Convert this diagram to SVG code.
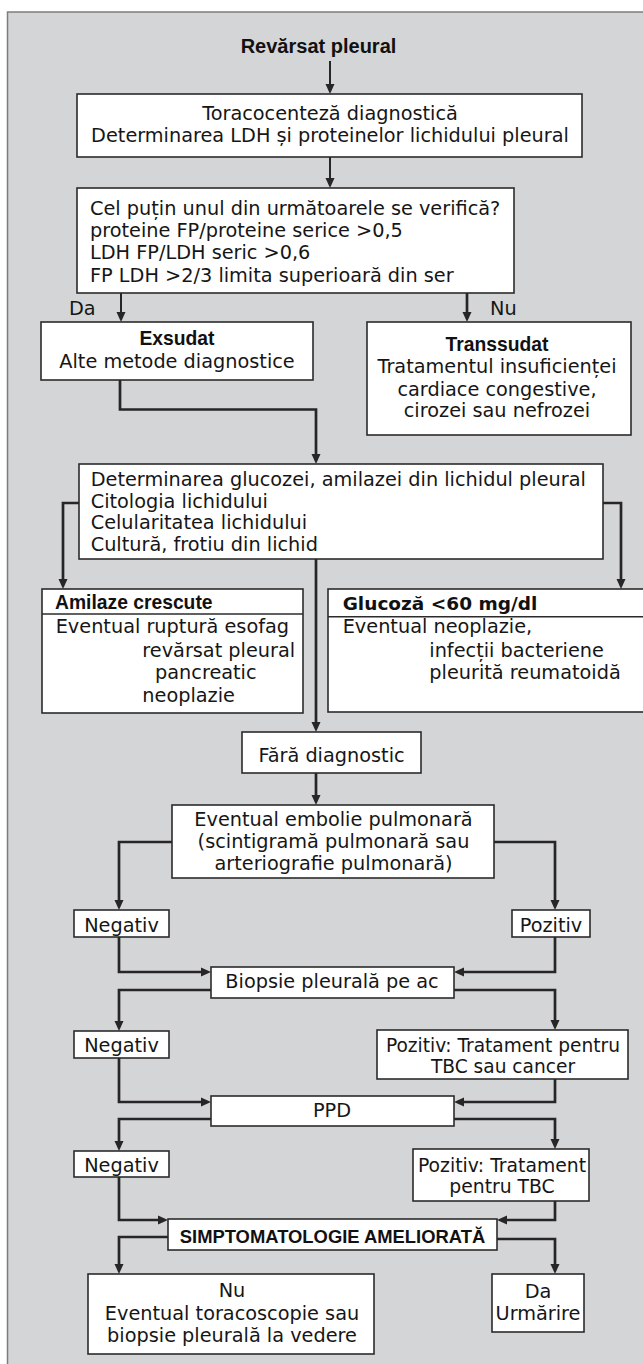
<svg xmlns="http://www.w3.org/2000/svg" width="643" height="1364" viewBox="0 0 643 1364">
  <defs>
    <marker id="ah" viewBox="0 0 10 10" refX="4" refY="5" markerWidth="10" markerHeight="10" markerUnits="userSpaceOnUse" orient="auto">
      <path d="M0,0.5 L10,5 L0,9.5 z" fill="#262626"/>
    </marker>
    <style>
      .panel { fill: #d4d5d7; stroke: #7d7d7d; stroke-width: 1.5; }
      .box { fill: #ffffff; stroke: #2b2b2b; stroke-width: 1.6; }
      .rule { stroke: #2b2b2b; stroke-width: 1.6; }
      .t { font-family: "DejaVu Sans", "Liberation Sans", sans-serif; font-size: 19.3px; fill: #161616; }
      .c { text-anchor: middle; }
      .b { font-family: "Liberation Sans", Arial, sans-serif; font-weight: bold; font-size: 19.3px; fill: #111111; }
      .bw { font-family: "DejaVu Sans", sans-serif; font-weight: bold; font-size: 18.5px; fill: #111111; }
      #connectors path { fill: none; stroke: #262626; stroke-width: 2.7; stroke-linejoin: miter; marker-end: url(#ah); }
      #connectors path.thin { stroke-width: 2; }
    </style>
  </defs>

  <!-- background panel -->
  <rect class="panel" x="7.5" y="12" width="650" height="1370"/>

  <!-- connectors -->
  <g id="connectors">
    <path class="thin" d="M330,61 V88"/>
    <path class="thin" d="M330,157 V182"/>
    <path class="thin" d="M121,293 V316"/>
    <path d="M467,293 V316"/>
    <path d="M120,380 V409.5 H316 V458"/>
    <path d="M79,503 H63 V583"/>
    <path d="M603,503 H621 V583"/>
    <path d="M316,559 V726"/>
    <path d="M316,773 V799"/>
    <path d="M172,842 H119 V904"/>
    <path d="M494,842 H555 V904"/>
    <path d="M119,937 V972 H205"/>
    <path d="M555,937 V972 H460"/>
    <path d="M211,990 H119 V1025"/>
    <path d="M454,990 H555 V1024"/>
    <path d="M119,1058 V1102 H205"/>
    <path d="M555,1079 V1102 H460"/>
    <path d="M211,1119 H119 V1145"/>
    <path d="M454,1119 H555 V1143"/>
    <path d="M119,1177 V1220 H162"/>
    <path d="M555,1201 V1220 H503"/>
    <path d="M168,1237 H119 V1268"/>
    <path d="M497,1239 H555 V1268"/>
  </g>

  <g id="start">
    <text class="b c" x="318.5" y="53" style="font-size:20px">Revărsat pleural</text>
  </g>

  <g id="toracocenteza">
    <rect class="box" x="77" y="94" width="505" height="63"/>
    <text class="t c" x="330" y="120">Toracocenteză diagnostică</text>
    <text class="t c" x="330" y="141.7">Determinarea LDH și proteinelor lichidului pleural</text>
  </g>

  <g id="criterii">
    <rect class="box" x="77" y="188" width="437" height="105"/>
    <text class="t" x="90" y="215">Cel puțin unul din următoarele se verifică?</text>
    <text class="t" x="90" y="237">proteine FP/proteine serice &gt;0,5</text>
    <text class="t" x="90" y="259">LDH FP/LDH seric &gt;0,6</text>
    <text class="t" x="90" y="281.5">FP LDH &gt;2/3 limita superioară din ser</text>
  </g>

  <g id="label-da">
    <text class="t" x="69" y="315">Da</text>
  </g>
  <g id="label-nu">
    <text class="t" x="490" y="315">Nu</text>
  </g>

  <g id="exsudat">
    <rect class="box" x="41" y="322" width="272" height="58"/>
    <text class="b c" x="177" y="345">Exsudat</text>
    <text class="t c" x="177" y="367.7">Alte metode diagnostice</text>
  </g>

  <g id="transsudat">
    <rect class="box" x="367" y="322" width="264" height="113"/>
    <text class="b c" x="497" y="350.7">Transsudat</text>
    <text class="t c" x="497" y="373.3">Tratamentul insuficienței</text>
    <text class="t c" x="497" y="395.7">cardiace congestive,</text>
    <text class="t c" x="497" y="416.7">cirozei sau nefrozei</text>
  </g>

  <g id="determinari">
    <rect class="box" x="79" y="464" width="524" height="95"/>
    <text class="t" x="90.7" y="485.7">Determinarea glucozei, amilazei din lichidul pleural</text>
    <text class="t" x="90.7" y="507.7">Citologia lichidului</text>
    <text class="t" x="90.7" y="529.3">Celularitatea lichidului</text>
    <text class="t" x="90.7" y="551">Cultură, frotiu din lichid</text>
  </g>

  <g id="amilaze">
    <rect class="box" x="42" y="589" width="261" height="124"/>
    <line class="rule" x1="42" y1="614" x2="303" y2="614"/>
    <text class="b" x="55" y="609.3">Amilaze crescute</text>
    <text class="t" x="55.7" y="633.3">Eventual ruptură esofag</text>
    <text class="t" x="142.3" y="656.7">revărsat pleural</text>
    <text class="t" x="155" y="679.3">pancreatic</text>
    <text class="t" x="142.3" y="702.3">neoplazie</text>
  </g>

  <g id="glucoza">
    <rect class="box" x="328" y="589" width="330" height="123"/>
    <line class="rule" x1="328" y1="616.7" x2="658" y2="616.7"/>
    <text class="bw" x="342.7" y="610">Glucoză &lt;60 mg/dl</text>
    <text class="t" x="342.7" y="633.3">Eventual neoplazie,</text>
    <text class="t" x="429.3" y="656.7">infecții bacteriene</text>
    <text class="t" x="429.3" y="679.3">pleurită reumatoidă</text>
  </g>

  <g id="fara-diagnostic">
    <rect class="box" x="242" y="732" width="179" height="41"/>
    <text class="t c" x="331.5" y="761.7">Fără diagnostic</text>
  </g>

  <g id="embolie">
    <rect class="box" x="172" y="805" width="322" height="73"/>
    <text class="t c" x="333.5" y="825.7">Eventual embolie pulmonară</text>
    <text class="t c" x="333.5" y="848.3">(scintigramă pulmonară sau</text>
    <text class="t c" x="333.5" y="870">arteriografie pulmonară)</text>
  </g>

  <g id="negativ-1">
    <rect class="box" x="74" y="910" width="95" height="27"/>
    <text class="t c" x="121.5" y="931.7">Negativ</text>
  </g>

  <g id="pozitiv-1">
    <rect class="box" x="512" y="910" width="78" height="27"/>
    <text class="t c" x="551" y="931.7">Pozitiv</text>
  </g>

  <g id="biopsie">
    <rect class="box" x="211" y="967" width="243" height="31"/>
    <text class="t c" x="332" y="988.3">Biopsie pleurală pe ac</text>
  </g>

  <g id="negativ-2">
    <rect class="box" x="74" y="1031" width="95" height="27"/>
    <text class="t c" x="121.5" y="1051.7">Negativ</text>
  </g>

  <g id="pozitiv-2">
    <rect class="box" x="377" y="1030" width="251" height="49"/>
    <text class="t c" x="503" y="1051.7" style="font-size:18.6px">Pozitiv: Tratament pentru</text>
    <text class="t c" x="503" y="1073.3" style="font-size:18.6px">TBC sau cancer</text>
  </g>

  <g id="ppd">
    <rect class="box" x="211" y="1096" width="243" height="30"/>
    <text class="t c" x="332" y="1116.7">PPD</text>
  </g>

  <g id="negativ-3">
    <rect class="box" x="74" y="1151" width="95" height="26"/>
    <text class="t c" x="121.5" y="1171.7">Negativ</text>
  </g>

  <g id="pozitiv-3">
    <rect class="box" x="413" y="1149" width="176" height="52"/>
    <text class="t c" x="502" y="1171.5" style="font-size:18.8px">Pozitiv: Tratament</text>
    <text class="t c" x="502" y="1193.3" style="font-size:18.8px">pentru TBC</text>
  </g>

  <g id="simptomatologie">
    <rect class="box" x="168" y="1219" width="329" height="31"/>
    <text class="b c" x="332.5" y="1243.3" style="font-size:18.4px">SIMPTOMATOLOGIE AMELIORATĂ</text>
  </g>

  <g id="nu">
    <rect class="box" x="88" y="1274" width="286" height="80"/>
    <text class="t c" x="232" y="1297">Nu</text>
    <text class="t c" x="232" y="1320">Eventual toracoscopie sau</text>
    <text class="t c" x="232" y="1341.7">biopsie pleurală la vedere</text>
  </g>

  <g id="da">
    <rect class="box" x="492" y="1274" width="92" height="58"/>
    <text class="t c" x="538" y="1297.5">Da</text>
    <text class="t c" x="538" y="1320">Urmărire</text>
  </g>
</svg>
